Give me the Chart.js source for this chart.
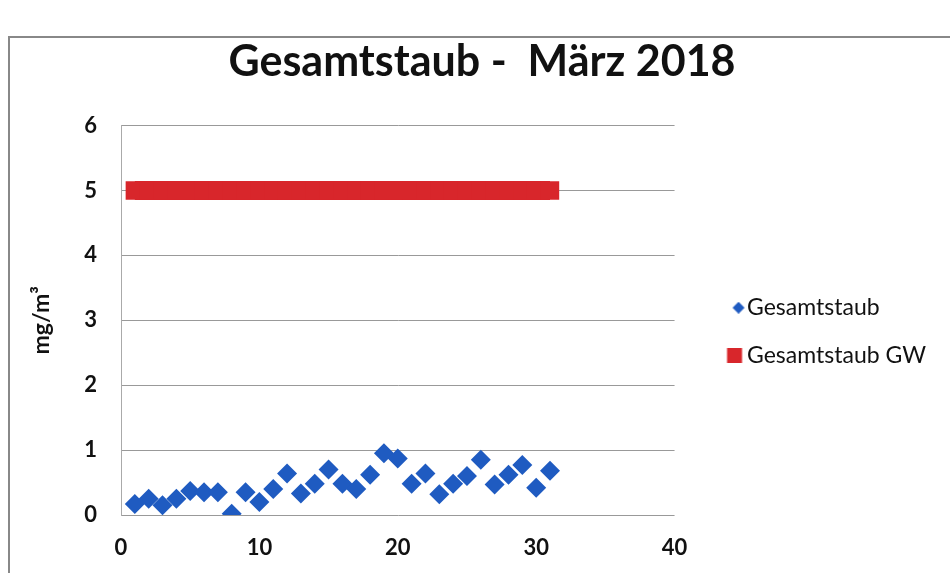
<!DOCTYPE html>
<html>
<head>
<meta charset="utf-8">
<script src="https://cdn.jsdelivr.net/npm/chart.js@4/dist/chart.umd.min.js"></script>
<style>
  html, body { margin:0; background:#fff; overflow:hidden; }
  #frame { position:absolute; left:8px; top:36px; width:950px; height:540px; border-left:2px solid #888; border-top:2px solid #888; }
  #wrap  { position:absolute; left:0; top:0; width:950px; height:573px; }
</style>
</head>
<body>
<div id="frame"></div>
<div id="wrap"><canvas id="chart"></canvas></div>
<script>
const days   = [1,2,3,4,5,6,7,8,9,10,11,12,13,14,15,16,17,18,19,20,21,22,23,24,25,26,27,28,29,30,31];
const staub  = [0.17,0.25,0.15,0.25,0.37,0.35,0.35,0.02,0.35,0.20,0.40,0.64,0.33,0.48,0.70,0.48,0.40,0.62,0.95,0.87,0.48,0.64,0.32,0.48,0.60,0.85,0.47,0.62,0.77,0.42,0.68];
const grenzw = [5,5,5,5,5,5,5,5,5,5,5,5,5,5,5,5,5,5,5,5,5,5,5,5,5,5,5,5,5,5,5];
const xTicks = [0,10,20,30,40];
const yTicks = [0,1,2,3,4,5,6];

const BLUE = "#1f5bc1";
const RED  = "#d8262b";

// legend markers: drawn off-centre so they sit close to the text
function marker(kind, size, color, shift) {
  const c = document.createElement("canvas");
  const half = Math.ceil(shift + size / 2) + 1;
  c.width = half * 2; c.height = size;
  const g = c.getContext("2d");
  const cx = half + shift;
  g.fillStyle = color;
  if (kind === "diamond") {
    g.beginPath();
    g.moveTo(cx, 0); g.lineTo(cx + size/2, size/2); g.lineTo(cx, size); g.lineTo(cx - size/2, size/2);
    g.closePath(); g.fill();
  } else {
    g.fillRect(cx - size/2, 0, size, size);
  }
  return c;
}
const legendMarks = [marker("diamond", 12, BLUE, 21), marker("square", 15, RED, 17)];

const font = "Lato, 'Open Sans', sans-serif";

new Chart(document.getElementById("chart").getContext("2d"), {
  type: "scatter",
  data: {
    datasets: [
      {
        label: "Gesamtstaub",
        data: days.map((d, i) => ({ x: d, y: staub[i] })),
        pointStyle: "rectRot",
        pointRadius: 10,
        pointHoverRadius: 10,
        backgroundColor: BLUE,
        borderColor: BLUE,
        borderWidth: 0,
        showLine: false,
      },
      {
        label: "Gesamtstaub GW",
        data: days.map((d, i) => ({ x: d, y: grenzw[i] })),
        pointStyle: "rect",
        pointRadius: 13,
        pointHoverRadius: 13,
        backgroundColor: RED,
        borderColor: RED,
        borderWidth: 19,
        pointBorderWidth: 0,
        showLine: true,
      },
    ],
  },
  options: {
    responsive: true,
    maintainAspectRatio: false,
    animation: false,
    layout: { padding: { top: 36, left: 28, right: 14, bottom: 0 } },
    plugins: {
      title: {
        display: true,
        text: "Gesamtstaub -  März 2018",
        color: "#111",
        font: { family: font, size: 43, weight: "bold" },
        padding: { top: 0, bottom: 38 },
      },
      legend: {
        position: "right",
        maxWidth: 320,
        title: { display: true, text: " ", font: { size: 12 }, padding: { top: 20, bottom: 20 } },
        labels: {
          usePointStyle: true,
          pointStyleWidth: 36,
          color: "#111",
          font: { family: font, size: 23 },
          padding: 25,
          generateLabels: (chart) => {
            const items = Chart.defaults.plugins.legend.labels.generateLabels(chart);
            items.forEach((it, i) => { it.pointStyle = legendMarks[i]; });
            return items;
          },
        },
      },
      tooltip: { enabled: false },
    },
    scales: {
      x: {
        type: "linear",
        min: 0, max: 40,
        afterBuildTicks: (s) => { s.ticks = xTicks.map(v => ({ value: v })); },
        afterFit: (s) => { s.height = 58; },
        grid: { display: false, drawTicks: false },
        border: { display: false },
        ticks: { color: "#111", padding: 20, font: { family: font, size: 22, weight: "bold" } },
      },
      y: {
        min: 0, max: 6,
        afterBuildTicks: (s) => { s.ticks = yTicks.map(v => ({ value: v })); },
        afterFit: (s) => { s.width = 93; },
        grid: { color: "#999", lineWidth: 1, drawTicks: false },
        border: { display: true, color: "#aaa", width: 1 },
        title: {
          display: true,
          text: "mg/m³",
          color: "#111",
          font: { family: font, size: 23, weight: "bold" },
          padding: { top: 0, bottom: 0 },
        },
        ticks: { color: "#111", padding: 24, font: { family: font, size: 22, weight: "bold" } },
      },
    },
  },
});
</script>
</body>
</html>
